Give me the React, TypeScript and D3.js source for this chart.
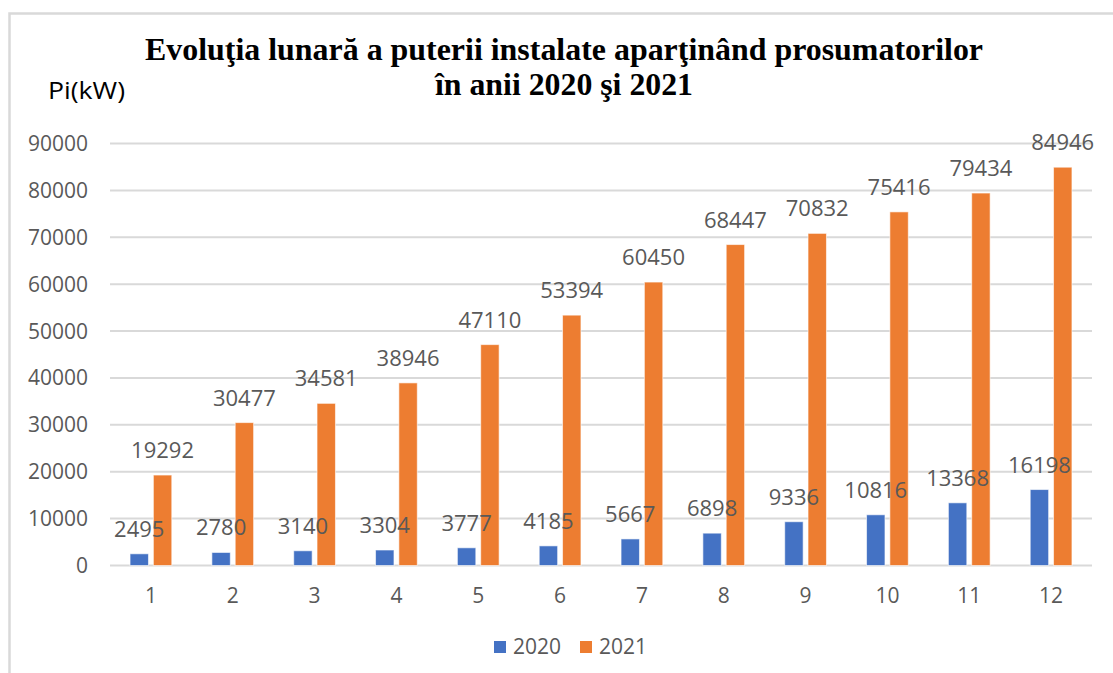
import React from "react";
import * as d3 from "d3";

const months = ["1", "2", "3", "4", "5", "6", "7", "8", "9", "10", "11", "12"];
const series = ["2020", "2021"];
const values2020 = [2495, 2780, 3140, 3304, 3777, 4185, 5667, 6898, 9336, 10816, 13368, 16198];
const values2021 = [19292, 30477, 34581, 38946, 47110, 53394, 60450, 68447, 70832, 75416, 79434, 84946];
const yTicks = [0, 10000, 20000, 30000, 40000, 50000, 60000, 70000, 80000, 90000];
const colors = ["#4472C4", "#ED7D31"];
const titleLine1 = "Evoluţia lunară a puterii instalate aparţinând prosumatorilor";
const titleLine2 = "în anii 2020 şi 2021";
const yAxisTitle = "Pi(kW)";

const W = 1113;
const H = 673;
const FONT = "'Open Sans', 'DejaVu Sans', sans-serif";
const TXT = "#595959";

export default function App() {
  const x0 = d3.scaleBand<string>().domain(months).range([110, 1092]).padding(0);
  const x1 = d3
    .scaleBand<string>()
    .domain(series)
    .range([0, x0.step()])
    .paddingInner(0.21)
    .paddingOuter(0.86);
  const y = d3.scaleLinear().domain([0, 90000]).range([565.5, 143.5]);
  const data = [values2020, values2021];
  const bw = x1.bandwidth();

  const marks = months.flatMap((m, i) =>
    series.map((s, si) => {
      const v = data[si][i];
      const bx = (x0(m) as number) + (x1(s) as number);
      return { key: m + "-" + s, v, bx, si };
    })
  );

  return (
    <svg
      width={W}
      height={H}
      style={{ position: "absolute", left: 0, top: 0, background: "#fff" }}
    >
      <rect x={0} y={0} width={W} height={H} fill="#fff" />
      <rect x={9.5} y={13.5} width={W + 20} height={H + 20} fill="none" stroke="#D9D9D9" strokeWidth={2.5} />

      <text
        x={564}
        y={60}
        textAnchor="middle"
        fontFamily="'Liberation Serif', 'Times New Roman', serif"
        fontWeight="bold"
        fontSize={32}
        textLength={838}
        lengthAdjust="spacingAndGlyphs"
        fill="#000"
      >
        {titleLine1}
      </text>
      <text
        x={564}
        y={95}
        textAnchor="middle"
        fontFamily="'Liberation Serif', 'Times New Roman', serif"
        fontWeight="bold"
        fontSize={32}
        textLength={258}
        lengthAdjust="spacingAndGlyphs"
        fill="#000"
      >
        {titleLine2}
      </text>

      <text
        x={48}
        y={99}
        fontFamily={FONT}
        fontSize={24}
        textLength={77}
        lengthAdjust="spacingAndGlyphs"
        fill="#000"
      >
        {yAxisTitle}
      </text>

      {yTicks.map((t) => (
        <g key={t}>
          <line x1={110} x2={1092} y1={y(t)} y2={y(t)} stroke="#D9D9D9" strokeWidth={2} />
          <text
            x={88}
            y={y(t) + 7.5}
            textAnchor="end"
            fontFamily={FONT}
            fontSize={21}
            fill={TXT}
          >
            {t}
          </text>
        </g>
      ))}

      {marks.map((d) => (
        <rect
          key={"r" + d.key}
          x={d.bx}
          y={y(d.v)}
          width={bw}
          height={y(0) - y(d.v)}
          fill={colors[d.si]}
          stroke="#fff"
          strokeOpacity={0.6}
          strokeWidth={1}
        />
      ))}

      {marks.map((d) => (
        <text
          key={"t" + d.key}
          x={d.bx + bw / 2}
          y={y(d.v) - 17}
          textAnchor="middle"
          fontFamily={FONT}
          fontSize={22}
          fill={TXT}
        >
          {d.v}
        </text>
      ))}

      {months.map((m) => (
        <text
          key={"x" + m}
          x={(x0(m) as number) + x0.bandwidth() / 2}
          y={603}
          textAnchor="middle"
          fontFamily={FONT}
          fontSize={21}
          fill={TXT}
        >
          {m}
        </text>
      ))}

      {series.map((s, si) => {
        const lx = si === 0 ? 494 : 580;
        return (
          <g key={s}>
            <rect x={lx} y={641} width={12} height={12} fill={colors[si]} />
            <text x={lx + 19} y={654} fontFamily={FONT} fontSize={21} fill={TXT}>
              {s}
            </text>
          </g>
        );
      })}
    </svg>
  );
}
